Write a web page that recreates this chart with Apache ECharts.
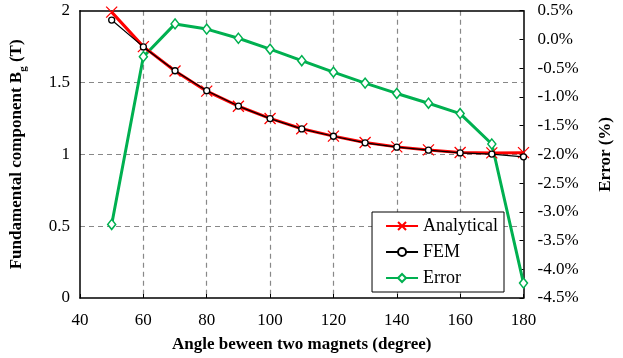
<!DOCTYPE html>
<html>
<head>
<meta charset="utf-8">
<script src="https://cdn.jsdelivr.net/npm/echarts@6/dist/echarts.min.js"></script>
<style>
  html, body { margin: 0; padding: 0; background: #fff; }
  #chart { width: 623px; height: 358px; }
</style>
</head>
<body>
<div id="chart"></div>
<script>
const angles = [50, 60, 70, 80, 90, 100, 110, 120, 130, 140, 150, 160, 170, 180];
const analytical = [1.99, 1.75, 1.58, 1.44, 1.335, 1.25, 1.178, 1.127, 1.082, 1.052, 1.031, 1.013, 1.01, 1.012];
const fem = [1.935, 1.748, 1.582, 1.443, 1.336, 1.249, 1.177, 1.126, 1.08, 1.05, 1.029, 1.01, 1.002, 0.983];
const errorPct = [-3.22, -0.30, 0.27, 0.18, 0.02, -0.17, -0.37, -0.57, -0.76, -0.94, -1.11, -1.29, -1.82, -4.24];

const font = "Liberation Serif";
const pair = (ys) => angles.map((a, i) => [a, ys[i]]);

const chart = echarts.init(document.getElementById("chart"));

const option = {
  backgroundColor: "#fff",
  animation: false,
  textStyle: { fontFamily: font, color: "#000" },
  grid: { left: 79, right: 99.5, top: 10.7, bottom: 60, containLabel: false },
  legend: {
    orient: "vertical",
    right: 119,
    top: 212,
    itemGap: 8,
    itemWidth: 32,
    itemHeight: 10,
    padding: [5, 6, 5, 13],
    borderColor: "#000",
    borderWidth: 1,
    backgroundColor: "#fff",
    textStyle: { fontFamily: font, fontSize: 18, color: "#000" },
    data: ["Analytical", "FEM", "Error"]
  },
  xAxis: [
    {
      type: "value",
      min: 40,
      max: 180,
      interval: 20,
      name: "Angle beween two magnets (degree)",
      nameLocation: "middle",
      nameGap: 38,
      nameTextStyle: { fontFamily: font, fontSize: 17, fontWeight: "bold", color: "#000" },
      axisLine: { onZero: false, lineStyle: { color: "#000", width: 1.5 } },
      axisTick: { inside: true, length: 4, lineStyle: { color: "#000" } },
      axisLabel: { fontFamily: font, fontSize: 17, color: "#000", margin: 14 },
      splitLine: {
        show: true,
        showMinLine: false,
        showMaxLine: false,
        lineStyle: { color: "#888", type: [5, 4], width: 1.2 }
      }
    },
    {
      type: "value",
      position: "top",
      min: 40,
      max: 180,
      axisLine: { show: true, onZero: false, lineStyle: { color: "#000", width: 1.5 } },
      axisTick: { show: false },
      axisLabel: { show: false },
      splitLine: { show: false }
    }
  ],
  yAxis: [
    {
      type: "value",
      min: 0,
      max: 2,
      interval: 0.5,
      name: "Fundamental component B{sub|g} (T)",
      nameLocation: "middle",
      nameGap: 55,
      nameRotate: 90,
      nameTextStyle: {
        fontFamily: font,
        fontSize: 17,
        fontWeight: "bold",
        color: "#000",
        rich: {
          sub: { fontFamily: font, fontSize: 11, fontWeight: "bold", verticalAlign: "bottom", padding: [0, 0, -4, 0] }
        }
      },
      axisLine: { show: true, onZero: false, lineStyle: { color: "#000", width: 1.5 } },
      axisTick: { show: false },
      axisLabel: { fontFamily: font, fontSize: 17, color: "#000", margin: 10 },
      splitLine: {
        show: true,
        showMinLine: false,
        showMaxLine: false,
        lineStyle: { color: "#888", type: [5, 4], width: 1.2 }
      }
    },
    {
      type: "value",
      position: "right",
      min: -4.5,
      max: 0.5,
      interval: 0.5,
      name: "Error (%)",
      nameLocation: "middle",
      nameGap: 74,
      nameRotate: 90,
      nameTextStyle: { fontFamily: font, fontSize: 17, fontWeight: "bold", color: "#000" },
      axisLine: { show: true, onZero: false, lineStyle: { color: "#000", width: 1.5 } },
      axisTick: { show: true, inside: true, length: 4, lineStyle: { color: "#000" } },
      axisLabel: {
        fontFamily: font,
        fontSize: 17,
        color: "#000",
        margin: 14,
        formatter: (v) => v.toFixed(1) + "%"
      },
      splitLine: { show: false }
    }
  ],
  series: [
    {
      name: "Error",
      type: "line",
      xAxisIndex: 0,
      yAxisIndex: 1,
      data: pair(errorPct),
      symbol: "diamond",
      symbolSize: [8, 10],
      lineStyle: { color: "#00B050", width: 3 },
      itemStyle: { color: "#fff", borderColor: "#00B050", borderWidth: 1.5 },
      z: 2
    },
    {
      name: "Analytical",
      type: "line",
      xAxisIndex: 0,
      yAxisIndex: 0,
      data: pair(analytical),
      symbol: "path://M0,0L10,10M10,0L0,10",
      symbolSize: 11,
      lineStyle: { color: "#FF0000", width: 3 },
      itemStyle: { color: "#FF0000", borderColor: "#FF0000", borderWidth: 1.3 },
      z: 3
    },
    {
      name: "FEM",
      type: "line",
      xAxisIndex: 0,
      yAxisIndex: 0,
      data: pair(fem),
      symbol: "circle",
      symbolSize: 6,
      lineStyle: { color: "#000", width: 1.2 },
      itemStyle: { color: "#fff", borderColor: "#000", borderWidth: 1.3 },
      z: 4
    }
  ]
};

chart.setOption(option);
</script>
</body>
</html>
